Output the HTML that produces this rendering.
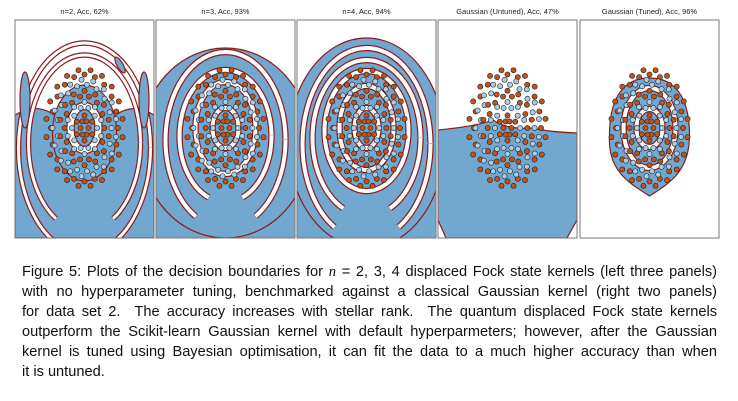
<!DOCTYPE html>
<html><head><meta charset="utf-8"><style>
body{margin:0;background:#fff;width:738px;height:401px;overflow:hidden;position:relative;font-family:"Liberation Sans",sans-serif}
svg{position:absolute;left:0;top:0}
.cap{position:absolute;left:22px;width:695px;font-size:14.6px;line-height:20px;color:#111;text-align:justify;text-align-last:justify;white-space:nowrap}
.cap.last{text-align-last:left}
i{font-family:"Liberation Serif",serif}
</style></head><body>
<svg id="fig" width="738" height="250"></svg>
<div class="cap" style="top:262px">Figure 5: Plots of the decision boundaries for <i>n</i> = 2, 3, 4 displaced Fock state kernels (left three panels)</div>
<div class="cap" style="top:282px">with no hyperparameter tuning, benchmarked against a classical Gaussian kernel (right two panels)</div>
<div class="cap" style="top:302px">for data set 2.&nbsp; The accuracy increases with stellar rank.&nbsp; The quantum displaced Fock state kernels</div>
<div class="cap" style="top:322px">outperform the Scikit-learn Gaussian kernel with default hyperparmeters; however, after the Gaussian</div>
<div class="cap" style="top:342px">kernel is tuned using Bayesian optimisation, it can fit the data to a much higher accuracy than when</div>
<div class="cap last" style="top:362px">it is untuned.</div>
<script>
const panelTitles=["n=2, Acc, 62%","n=3, Acc, 93%","n=4, Acc, 94%","Gaussian (Untuned), Acc, 47%","Gaussian (Tuned), Acc, 96%"];
const panelLeft=[15,156,297,438,580];
// data rings (relative radius), class 0=orange,1=blue
const ringRadius=[1.0,0.82,0.62,0.42,0.18];
const ringClass=[0,1,0,1,0];
const ringCount=[40,34,28,20,12];
const BLUE="#72a8cf",RED="#8e1b1b";
const svg=document.getElementById('fig');
const NS="http://www.w3.org/2000/svg";
function mk(tag,attrs,parent){const e=document.createElementNS(NS,tag);for(const k in attrs)e.setAttribute(k,attrs[k]);(parent||svg).appendChild(e);return e;}
const PW=139,PH=218,PT=20;
panelLeft.forEach((x0,p)=>{
  const g=mk('g',{});
  
  
  const clipId='c'+p;
  const cp=mk('clipPath',{id:clipId},g);mk('rect',{x:x0,y:PT,width:PW,height:PH},cp);
  const inner=mk('g',{'clip-path':'url(#'+clipId+')'},g);
  mk('rect',{x:x0,y:PT,width:PW,height:PH,fill:'#fff'},inner);
  const cx=x0+PW/2,cy=128;
  const sx=36,sy=56;
  // white band with red edges; gapFrac = fraction of perimeter open at the bottom
  const band=(rx,ry,w,y1,gap)=>{
    const a={cx,cy:y1||cy,rx,ry,fill:'none',pathLength:100};
    const e1=mk('ellipse',Object.assign({},a,{stroke:RED,'stroke-width':w+2.4}),inner);
    const e2=mk('ellipse',Object.assign({},a,{stroke:'#fff','stroke-width':w}),inner);
    if(gap){const d=`${25-gap/2} ${gap} ${75-gap/2}`;e1.setAttribute('stroke-dasharray',d);e2.setAttribute('stroke-dasharray',d);}
  };
  if(p===0){
    mk('path',{d:`M${x0} ${PT+95} Q${x0+25} ${PT+80} ${x0+45} ${PT+100} L${x0+95} ${PT+100} Q${x0+115} ${PT+80} ${x0+PW} ${PT+95} L${x0+PW} ${PT+PH} L${x0} ${PT+PH}Z`,fill:BLUE,stroke:RED,'stroke-width':1.2},inner);
    mk('ellipse',{cx,cy:cy+5,rx:32,ry:48,fill:BLUE,stroke:RED,'stroke-width':1.2},inner);
    band(14,22,6);band(56,88,3,cy+15,14);band(66,105,3,cy+20,10);
    mk('ellipse',{cx:x0+10,cy:PT+80,rx:5,ry:28,fill:BLUE,stroke:RED,'stroke-width':1.2},inner);
    mk('ellipse',{cx:x0+129,cy:PT+80,rx:5,ry:28,fill:BLUE,stroke:RED,'stroke-width':1.2},inner);
    mk('ellipse',{cx:x0+105,cy:PT+45,rx:3,ry:9,fill:BLUE,stroke:RED,'stroke-width':1.2,transform:`rotate(-30 ${x0+105} ${PT+45})`},inner);
  } else if(p===1||p===2){
    const top=p===1?28:18;
    mk('rect',{x:x0,y:cy+15,width:PW,height:PH,fill:BLUE},inner);
    mk('ellipse',{cx,cy:cy+15,rx:p===1?85:78,ry:cy+15-PT-top,fill:BLUE,stroke:RED,'stroke-width':1.2},inner);
    if(p===1){
      band(13,20,4);band(30,46,4);band(46,66,4,cy+8,10);band(60,88,4,cy+12,14);
    } else {
      band(12,20,4);band(27,42,4);band(42,60,4,cy+3);band(54,78,4,cy+10,12);band(64,96,4,cy+16,14);
    }
  } else if(p===3){
    mk('path',{d:`M${x0} ${PT+110} Q${x0+40} ${PT+106} ${x0+55} ${PT+100} Q${cx} ${PT+110} ${x0+95} ${PT+108} Q${x0+110} ${PT+112} ${x0+PW} ${PT+113} L${x0+PW} ${PT+200} L${x0+PW-10} ${PT+PH} L${x0+8} ${PT+PH} L${x0} ${PT+200}Z`,fill:BLUE,stroke:RED,'stroke-width':1.2},inner);
  } else {
    mk('path',{d:`M${cx} ${PT+58} C${cx+38} ${PT+58} ${cx+40} ${PT+100} ${cx+40} ${PT+115} C${cx+40} ${PT+150} ${cx+22} ${PT+162} ${cx} ${PT+176} C${cx-22} ${PT+162} ${cx-42} ${PT+150} ${cx-40} ${PT+115} C${cx-40} ${PT+100} ${cx-38} ${PT+58} ${cx} ${PT+58}Z`,fill:BLUE,stroke:RED,'stroke-width':1.2},inner);
    band(13,19,4);band(26,40,4);
  }
  ringRadius.forEach((r,ri)=>{
    for(let k=0;k<ringCount[ri];k++){
      const a=k/ringCount[ri]*2*Math.PI;
      const off=(k%2?1:-1)*2.5;
      const c=mk('circle',{cx:cx+(sx*r+off)*Math.cos(a),cy:cy+(sy*r+off)*Math.sin(a),r:2.6,fill:ringClass[ri]?'#a8cde6':'#c0521c',stroke:'#222','stroke-width':0.6},inner);
      
      
    }
  });
  mk('rect',{x:x0,y:PT,width:PW,height:PH,fill:'none',stroke:'#777','stroke-width':1},g);
  const t=mk('text',{x:cx,y:14,'text-anchor':'middle','font-size':'7.5','fill':'#222','font-family':'Liberation Sans, sans-serif'},g);
  t.textContent=panelTitles[p];
  
  
});
</script>
</body></html>
